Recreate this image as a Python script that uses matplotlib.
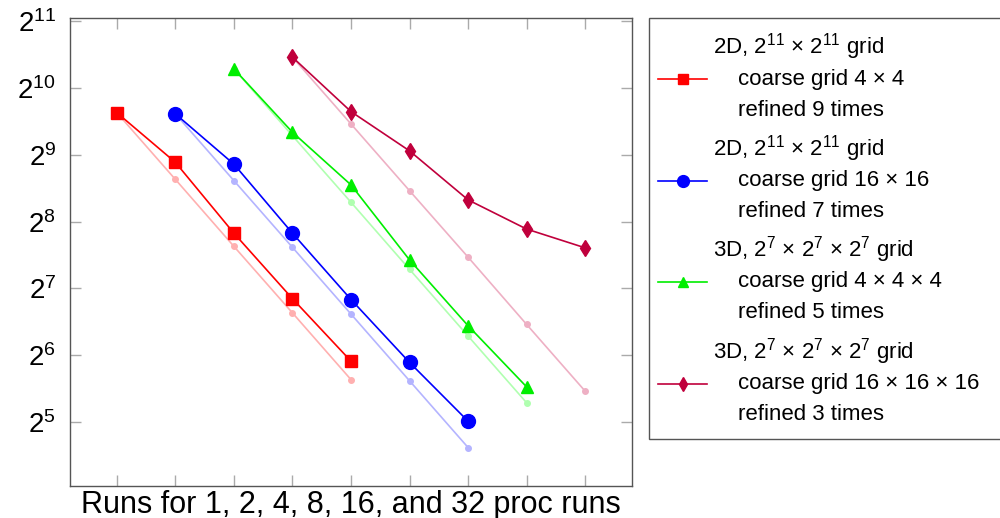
import matplotlib
matplotlib.use("Agg")
import matplotlib.pyplot as plt
from matplotlib.lines import Line2D
from matplotlib.patches import Rectangle

plt.rcParams['font.family'] = ['Liberation Sans', 'DejaVu Sans']
plt.rcParams['mathtext.fontset'] = 'custom'
plt.rcParams['mathtext.rm'] = 'Liberation Sans'
plt.rcParams['mathtext.it'] = 'Liberation Sans'

# positions on the x axis: 1..9, each series starts one step later
red_x = [1, 2, 3, 4, 5]
red_time = [794, 474, 227, 115, 60.1]
red_ideal = [794, 397, 198, 99.2, 49.6]

blue_x = [2, 3, 4, 5, 6, 7]
blue_time = [784, 465, 227, 114, 59.3, 32.2]
blue_ideal = [784, 392, 196, 98, 49, 24.5]

green_x = [3, 4, 5, 6, 7, 8]
green_time = [1251, 648, 375, 172, 86.8, 46]
green_ideal = [1251, 625, 313, 156, 78, 39]

crim_x = [4, 5, 6, 7, 8, 9]
crim_time = [1413, 803, 534, 321, 237, 195]
crim_ideal = [1413, 706, 353, 177, 88, 44]

legend_lines = [
    ["2D, $2^{11}$ × $2^{11}$ grid", "coarse grid 4 × 4", "refined 9 times"],
    ["2D, $2^{11}$ × $2^{11}$ grid", "coarse grid 16 × 16", "refined 7 times"],
    ["3D, $2^{7}$ × $2^{7}$ × $2^{7}$ grid", "coarse grid 4 × 4 × 4", "refined 5 times"],
    ["3D, $2^{7}$ × $2^{7}$ × $2^{7}$ grid", "coarse grid 16 × 16 × 16", "refined 3 times"],
]
yticks = [2 ** k for k in range(5, 12)]
ytick_labels = ["$2^{%d}$" % k for k in range(5, 12)]

series = [
    (red_x, red_time, red_ideal, '#ff0000', '#ffb0b0', 's', 9),
    (blue_x, blue_time, blue_ideal, '#0000ff', '#b4b4ff', 'o', 10),
    (green_x, green_time, green_ideal, '#00ee00', '#b0ffb0', '^', 9),
    (crim_x, crim_time, crim_ideal, '#c0003c', '#eeb0c4', 'd', 8),
]

W, H = 1000, 518
fig = plt.figure(figsize=(W / 100, H / 100), dpi=100)
ax = fig.add_axes([0.07, 0.062, 0.562, 0.903])


def fx(px):
    return px / W


def fy(py):
    return 1 - py / H


for x, t, ideal, c, lc, m, ms in series:
    ax.plot(x, ideal, '-o', color=lc, lw=1.2, ms=4, zorder=2)
    ax.plot(x, t, '-', marker=m, color=c, lw=1.2, ms=ms, zorder=3)

ax.set_yscale('log', base=2)
ax.set_ylim(2 ** 4.04, 2 ** 11.05)
ax.set_xlim(0.2, 9.8)
ax.set_yticks(yticks)
ax.set_yticklabels(ytick_labels, fontsize=20)
ax.minorticks_off()
ax.set_xticks(range(1, 10))
ax.set_xticklabels([])
ax.tick_params(direction='in', length=8, width=1, color='#aaaaaa',
               top=True, right=True, pad=10)
for s in ax.spines.values():
    s.set_color('#555555')
    s.set_linewidth(1)
ax.set_xlabel("Runs for 1, 2, 4, 8, 16, and 32 proc runs", fontsize=22)
ax.xaxis.set_label_coords(0.5, -0.008)

# legend box drawn by hand so the three-line entries keep even spacing
fig.add_artist(Rectangle((fx(649), fy(439)), fx(1010) - fx(649), fy(18) - fy(439),
                         transform=fig.transFigure, facecolor='white',
                         edgecolor='#555555', lw=1, clip_on=False))
for i, ((x, t, ideal, c, lc, m, ms), lines) in enumerate(zip(series, legend_lines)):
    y0 = 47 + 101.5 * i
    hy = fy(y0 + 32)
    fig.add_artist(Line2D([fx(658), fx(707)], [hy, hy], color=c, lw=1.2,
                          transform=fig.transFigure))
    fig.add_artist(Line2D([fx(682.5)], [hy], color=c, marker=m, ms=ms * 0.85,
                          lw=0, transform=fig.transFigure))
    fig.text(fx(713), fy(y0), lines[0], fontsize=16, va='center', ha='left')
    fig.text(fx(738), fy(y0 + 32), lines[1], fontsize=16, va='center', ha='left')
    fig.text(fx(738), fy(y0 + 63), lines[2], fontsize=16, va='center', ha='left')

fig.savefig("out.png", dpi=100)
